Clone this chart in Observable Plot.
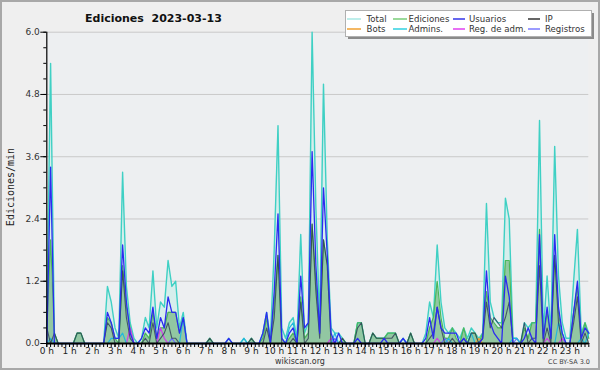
<!DOCTYPE html>
<html><head><meta charset="utf-8">
<script src="https://cdn.jsdelivr.net/npm/d3@7"></script>
<script src="https://cdn.jsdelivr.net/npm/@observablehq/plot@0.6"></script>
<style>
body{margin:0;background:#efefef}
#wrap{position:relative;width:600px;height:370px;background:#efefef;overflow:hidden}
#chart,#over{position:absolute;left:0;top:0}
</style></head><body>
<div id="wrap"><div id="chart"></div><svg id="over" width="600" height="370"></svg></div>
<script>
// ---- data: 10-minute bins, 6 per hour (rows = hours 0..23), values in edits/min ----
const hourLabels = d3.range(24).map(h => h + " h");
const yTicks = [0, 1.2, 2.4, 3.6, 4.8, 6.0];

const totalByHour = [
 [0.3,5.4,0.2,0,0,0],[0,0,0.2,0.2,0,0],[0,0,0,0,1.1,0.8],[0.3,0.1,3.3,1.1,0.4,0.1],
 [0,0.1,0.5,0.3,1.4,0.3],[0.8,0.7,1.6,1.1,1.2,0.3],[0.6,0,0,0,0,0],[0,0.1,0,0,0,0],
 [0.1,0,0,0,0.1,0],[0.1,0,0,0.2,0.6,0.1],[1.8,4.2,0.3,0.1,0.4,0.5],[0.1,2.1,0.2,0.4,6.0,2.6],
 [0.4,5.0,2.0,0.3,0.2,0.2],[0.1,0,0,0,0.4,0.4],[0,0,0.2,0.1,0.1,0.1],[0.2,0.2,0.2,0,0.1,0],
 [0.2,0,0,0,0.2,0.8],[0.5,1.9,0.8,0.3,0.2,0.3],[0.2,0.1,0.3,0.1,0.3,0.2],[0.1,0.2,2.7,0.8,0.5,0.4],
 [0.4,2.8,2.4,0.1,0.1,0],[0.4,0.3,0.4,0.4,4.3,0.2],[1.3,0.2,3.8,1.3,0.4,0.1],[0.1,1.2,2.2,0.2,0.4,0.2]
];
const edicionesByHour = [
 [0.3,2.0,0.2,0,0,0],[0,0,0.2,0.2,0,0],[0,0,0,0,0.5,0.4],[0.1,0,1.5,0.7,0.3,0],
 [0,0,0.2,0.1,0.6,0.1],[0.3,0.3,0.6,0.6,0.6,0.2],[0.5,0,0,0,0,0],[0,0.1,0,0,0,0],
 [0,0,0,0,0,0],[0.1,0,0,0.1,0.5,0],[0.8,1.7,0.1,0,0.1,0.2],[0,0.9,0.1,0.2,2.3,1.2],
 [0.2,2.0,1.5,0.1,0,0],[0.1,0,0,0,0.4,0.4],[0,0,0.2,0.1,0.1,0.1],[0.2,0.2,0.2,0,0,0],
 [0.2,0,0,0,0,0.3],[0.5,1.2,0.5,0.1,0.1,0.3],[0.1,0,0.3,0,0.2,0.2],[0,0.2,1.0,0.5,0.4,0.3],
 [0.3,1.6,1.6,0,0,0],[0.3,0.1,0.4,0.4,2.2,0.1],[0.6,0.1,1.7,0.6,0.1,0],[0,0.6,1.1,0.1,0.4,0.1]
];
const usuariosByHour = [
 [0,3.4,0,0,0,0],[0,0,0,0,0,0],[0,0,0,0,0.6,0.4],[0.1,0.1,1.9,0.8,0.2,0],
 [0,0.1,0.3,0.2,0.7,0.1],[0.5,0.3,0.9,0.6,0.6,0.2],[0.5,0,0,0,0,0],[0,0,0,0,0,0],
 [0.1,0,0,0,0,0],[0,0,0,0.2,0.6,0],[1.0,2.5,0.1,0,0.2,0.3],[0,1.3,0.3,0.4,3.7,1.5],
 [0.2,3.0,1.7,0.2,0,0.2],[0,0,0,0,0.1,0],[0,0,0,0,0,0.1],[0,0,0,0,0.1,0],
 [0,0,0,0,0.1,0.5],[0.1,0.7,0.3,0.2,0.2,0.2],[0.2,0,0.1,0,0,0],[0,0.1,1.4,0.4,0.2,0.1],
 [0,1.3,0.9,0,0,0],[0.1,0.3,0.1,0,2.1,0.1],[0.7,0.1,2.1,0.7,0.2,0],[0,0.6,1.2,0.1,0.3,0.2]
];
const ipByHour = [
 [0.3,0,0.2,0,0,0],[0,0,0.2,0.2,0,0],[0,0,0,0,0.4,0.3],[0,0,1.4,0.5,0.1,0],
 [0,0,0.1,0,0.4,0],[0.1,0.2,0.4,0.1,0.1,0],[0,0,0,0,0,0],[0,0.1,0,0,0,0],
 [0,0,0,0,0,0],[0.1,0,0,0,0.3,0],[0.5,1.7,0,0,0,0.1],[0,0.8,0,0.1,2.3,1.0],
 [0.1,2.0,1.5,0,0,0],[0.1,0,0,0,0.3,0.4],[0,0,0.2,0.1,0.1,0.1],[0.1,0.1,0.2,0,0,0],
 [0.2,0,0,0,0,0.1],[0.2,0.7,0.3,0,0,0.1],[0,0,0.1,0,0.2,0.2],[0,0.1,0.8,0.3,0.5,0.4],
 [0.3,0.5,0.8,0,0,0],[0.4,0,0.1,0.1,1.5,0],[0.3,0,1.7,0.4,0,0],[0,0.4,0.9,0,0.2,0]
];
// sparse series: bin index (10-min) and value
const adminsBins = [1,17,18,19,20,36,52,64,65,76,94,106,112,123,124,135,136,141,143];
const adminsVals = [0.1,0.1,0.1,0.1,0.2,0.5,0.1,0.3,0.4,0.2,0.1,0.1,0.2,0.1,0.1,0.4,0.2,0.1,0.2];
const regAdmBins = [22,30,31,75,103,132,136];
const regAdmVals = [0.3,0.3,0.1,0.1,0.1,0.1,0.1];
const registrosBins = [33,76,105,124];
const registrosVals = [0.1,0.1,0.1,0.1];
const botsBins = [114];
const botsVals = [0.1];

const N = 144;
function sparse(bins, vals){ const a = new Array(N).fill(0); bins.forEach((b,k)=>a[b]=vals[k]); return a; }
const total = totalByHour.flat(), ediciones = edicionesByHour.flat(),
      usuarios = usuariosByHour.flat(), ip = ipByHour.flat(),
      admins = sparse(adminsBins, adminsVals), regAdm = sparse(regAdmBins, regAdmVals),
      registros = sparse(registrosBins, registrosVals), bots = sparse(botsBins, botsVals);
const data = d3.range(N).map(i => ({t: i/6, total: total[i], ediciones: ediciones[i], usuarios: usuarios[i],
  ip: ip[i], admins: admins[i], regAdm: regAdm[i], registros: registros[i], bots: bots[i]}));

const C = {total:"#3fd0c4", totalFill:"#cdeee9", ediciones:"#4cb85a", edFill:"#92c7a2", usuarios:"#2b2bf0",
  ip:"#2a3352", bots:"#f0a030", admins:"#22b8dc", regAdm:"#d040e8", registros:"#6c6cff"};

const xMax = 143/6;
const minorX = d3.range(N).map(i => i/6);
const minorY = d3.range(0, 21).map(i => +(i*0.3).toFixed(1));

const chart = Plot.plot({
  width: 600, height: 370,
  marginLeft: 46.3, marginRight: 11.7, marginTop: 31.7, marginBottom: 27,
  style: {background: "transparent", fontFamily: "DejaVu Sans", fontSize: "9px", overflow: "visible"},
  x: {type: "linear", domain: [0, xMax]},
  y: {domain: [0, 6]},
  marks: [
    Plot.rect([0], {x1: 0, x2: xMax, y1: 0, y2: 6, fill: "#edeff1"}),
    Plot.ruleY(yTicks.slice(1), {stroke: "#c9c9c9", strokeWidth: 1}),
    Plot.areaY(data, {x: "t", y: "total", fill: C.totalFill, fillOpacity: 0.75}),
    Plot.areaY(data, {x: "t", y: "ediciones", fill: C.edFill}),
    Plot.lineY(data, {x: "t", y: "total", stroke: C.total, strokeWidth: 1.4}),
    Plot.lineY(data, {x: "t", y: "ediciones", stroke: C.ediciones, strokeWidth: 1.2}),
    Plot.lineY(data, {x: "t", y: "registros", stroke: C.registros, strokeWidth: 1.2}),
    Plot.lineY(data, {x: "t", y: "regAdm", stroke: C.regAdm, strokeWidth: 1.2}),
    Plot.lineY(data, {x: "t", y: "admins", stroke: C.admins, strokeWidth: 1.2}),
    Plot.lineY(data, {x: "t", y: "bots", stroke: C.bots, strokeWidth: 1.2}),
    Plot.lineY(data, {x: "t", y: "ip", stroke: C.ip, strokeWidth: 1.1, strokeOpacity: 0.75}),
    Plot.lineY(data, {x: "t", y: "usuarios", stroke: C.usuarios, strokeWidth: 1.3}),
    Plot.axisY({ticks: minorY, tickSize: 3, tickFormat: () => "", label: null, stroke: "#000"}),
    Plot.axisY({ticks: yTicks, tickSize: 6, tickPadding: 1, tickFormat: d3.format(".1f"), label: null, stroke: "#000", fill: "#333", fontSize: 9}),
    Plot.axisX({ticks: minorX, tickSize: 4, tickFormat: () => "", label: null, stroke: "#000"}),
    Plot.axisX({ticks: d3.range(24), tickSize: 4, tickPadding: 0.5, tickFormat: d => hourLabels[d], label: null, stroke: "#000", fill: "#222", fontSize: 9}),
    Plot.ruleX([0], {y1: 0, y2: 6, stroke: "#000", strokeWidth: 1.2}),
    Plot.ruleY([0], {x1: 0, x2: xMax, stroke: "#000", strokeWidth: 2})
  ]
});
document.getElementById("chart").appendChild(chart);

// ---- overlay texts: title, legend, labels ----
const svg = d3.select("#over");
svg.append("text").attr("x", 85).attr("y", 22).attr("font-family", "DejaVu Sans").attr("font-weight", "bold")
  .attr("font-size", 11).attr("fill", "#111").style("white-space", "pre").text("Ediciones  2023-03-13");

const legendItems = [
  {name: "Total", color: "#a8e8e4", col: 0, row: 0},
  {name: "Ediciones", color: "#78cc78", col: 1, row: 0},
  {name: "Usuarios", color: "#3535e8", col: 2, row: 0},
  {name: "IP", color: "#333333", col: 3, row: 0},
  {name: "Bots", color: "#f0a030", col: 0, row: 1},
  {name: "Admins.", color: "#30d0e0", col: 1, row: 1},
  {name: "Reg. de adm.", color: "#e040f0", col: 2, row: 1},
  {name: "Registros", color: "#7b7bff", col: 3, row: 1}
];
const colX = [347, 393, 453, 528];
const colLen = [14, 14, 12, 12];
const colText = [366.5, 408.5, 469, 545];
const rowY = [19, 29];
svg.append("rect").attr("x", 348).attr("y", 13).attr("width", 246).attr("height", 26).attr("fill", "#8a8a8a");
svg.append("rect").attr("x", 345.5).attr("y", 10.5).attr("width", 246).attr("height", 26).attr("fill", "#fff").attr("stroke", "#b0b0b0");
legendItems.forEach(d => {
  const x = colX[d.col], y = rowY[d.row];
  svg.append("line").attr("x1", x).attr("x2", x + colLen[d.col]).attr("y1", y).attr("y2", y).attr("stroke", d.color).attr("stroke-width", 1.5);
  svg.append("text").attr("x", colText[d.col]).attr("y", y + 3.3).attr("font-family", "DejaVu Sans").attr("font-size", 8.6)
    .attr("textLength", null).attr("fill", "#333").text(d.name);
});

svg.append("text").attr("transform", "translate(14,187) rotate(-90)").attr("text-anchor", "middle")
  .attr("font-family", "DejaVu Sans Mono").attr("font-size", 10).attr("fill", "#222").text("Ediciones/min");
svg.append("text").attr("x", 300).attr("y", 364).attr("text-anchor", "middle").attr("font-family", "DejaVu Sans")
  .attr("font-size", 8).attr("fill", "#333").text("wikiscan.org");
svg.append("text").attr("x", 590).attr("y", 364).attr("text-anchor", "end").attr("font-family", "DejaVu Sans")
  .attr("font-size", 6.5).attr("fill", "#444").text("CC BY-SA 3.0");
svg.append("rect").attr("x", 1).attr("y", 1).attr("width", 598).attr("height", 368).attr("fill", "none").attr("stroke", "#a8a8a8").attr("stroke-width", 2);
</script></body></html>
